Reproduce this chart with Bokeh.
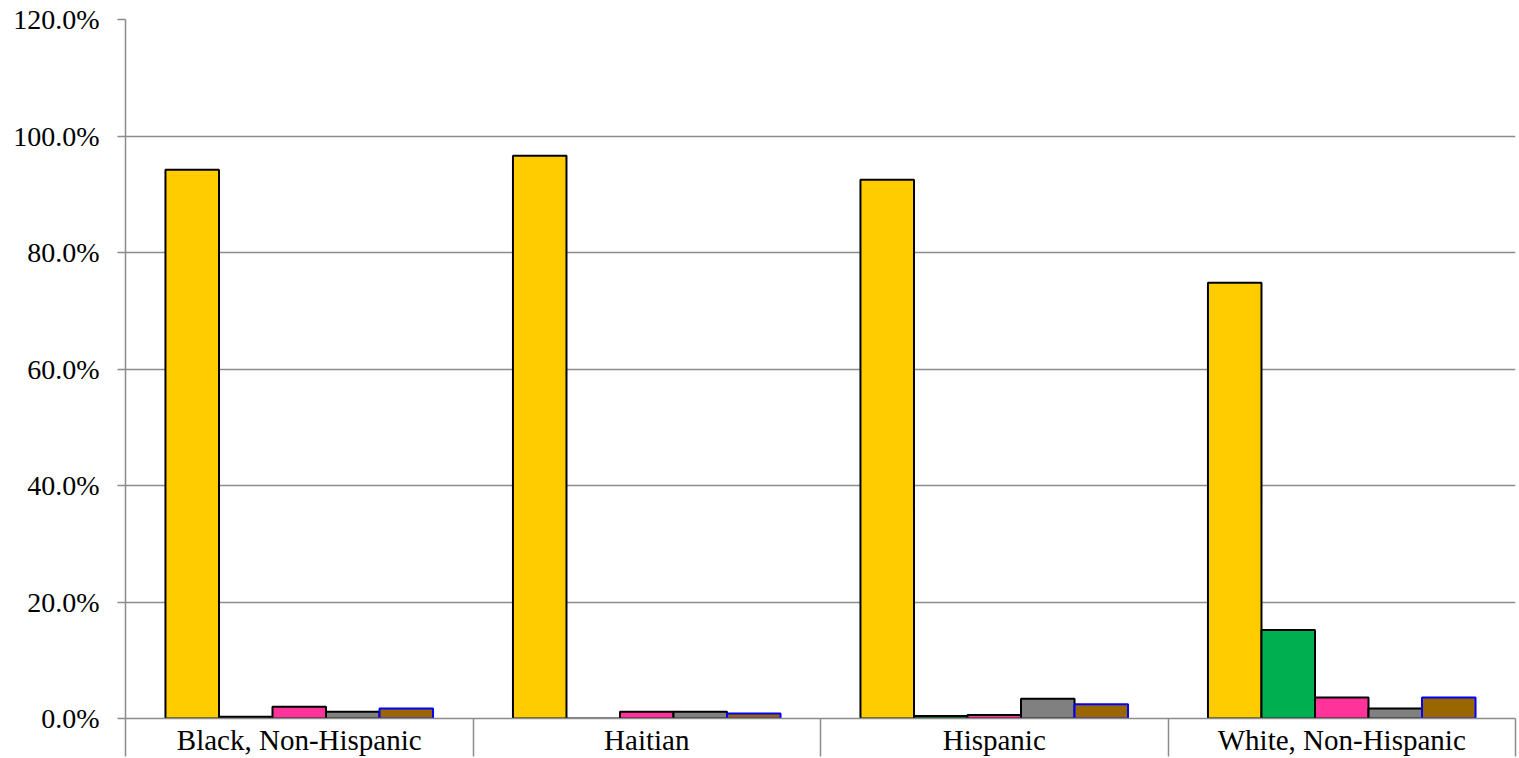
from bokeh.plotting import figure
from bokeh.models import ColumnDataSource, FixedTicker, PrintfTickFormatter, Range1d
from bokeh.embed import file_html
from bokeh.resources import INLINE

categories = ["Black, Non-Hispanic", "Haitian", "Hispanic", "White, Non-Hispanic"]
series_yellow = [94.2, 96.6, 92.5, 74.8]
series_green = [0.3, 0.0, 0.45, 15.2]
series_pink = [2.0, 1.15, 0.6, 3.6]
series_gray = [1.15, 1.15, 3.4, 1.7]
series_brown = [1.7, 0.85, 2.45, 3.6]
y_ticks = [0, 20, 40, 60, 80, 100, 120]

series = [series_yellow, series_green, series_pink, series_gray, series_brown]
fills = ["#FFCC00", "#00B050", "#FF3399", "#808080", "#996600"]
lines = ["#000000", "#000000", "#000000", "#000000", "#0000FF"]

FONT = "Liberation Serif"
GRID = "#8C8C8C"

p = figure(width=1519, height=758, output_backend="svg", toolbar_location=None,
           x_range=Range1d(0, len(categories)), y_range=Range1d(0, 120),
           min_border_left=125, min_border_right=4, min_border_top=19,
           min_border_bottom=38)
p.outline_line_color = None
p.background_fill_color = "white"

n = len(series)
bw = 0.77 / n
for k, (vals, fc, lc) in enumerate(zip(series, fills, lines)):
    xs = [i + 0.5 + (k - (n - 1) / 2) * bw for i in range(len(categories))]
    src = ColumnDataSource(dict(x=xs, top=vals))
    p.vbar(x="x", top="top", bottom=0, width=bw, source=src,
           fill_color=fc, line_color=lc, line_width=2)

# y axis
p.yaxis.ticker = FixedTicker(ticks=y_ticks)
p.yaxis.formatter = PrintfTickFormatter(format="%.1f%%")
p.yaxis.axis_line_color = GRID
p.yaxis.axis_line_width = 1.5
p.yaxis.major_tick_line_color = GRID
p.yaxis.major_tick_line_width = 1.5
p.yaxis.major_tick_out = 8
p.yaxis.major_tick_in = 0
p.yaxis.minor_tick_line_color = None
p.yaxis.major_label_text_font = FONT
p.yaxis.major_label_text_font_size = "28px"
p.yaxis.major_label_text_color = "#000000"
p.yaxis.major_label_standoff = 18

# x axis
centers = [i + 0.5 for i in range(len(categories))]
p.xaxis.ticker = FixedTicker(ticks=centers, minor_ticks=list(range(len(categories) + 1)))
p.xaxis.major_label_overrides = {c: lab for c, lab in zip(centers, categories)}
p.xaxis.axis_line_color = GRID
p.xaxis.axis_line_width = 1.5
p.xaxis.major_tick_line_color = None
p.xaxis.major_tick_out = 0
p.xaxis.major_tick_in = 0
p.xaxis.minor_tick_line_color = GRID
p.xaxis.minor_tick_line_width = 1.5
p.xaxis.minor_tick_out = 38
p.xaxis.minor_tick_in = 0
p.xaxis.major_label_text_font = FONT
p.xaxis.major_label_text_font_size = "29px"
p.xaxis.major_label_text_color = "#000000"
p.xaxis.major_label_standoff = -33

p.xgrid.grid_line_color = None
p.ygrid.ticker = FixedTicker(ticks=y_ticks)
p.ygrid.grid_line_color = GRID
p.ygrid.grid_line_width = 1.5

open("out.html", "w").write(file_html(p, INLINE))
